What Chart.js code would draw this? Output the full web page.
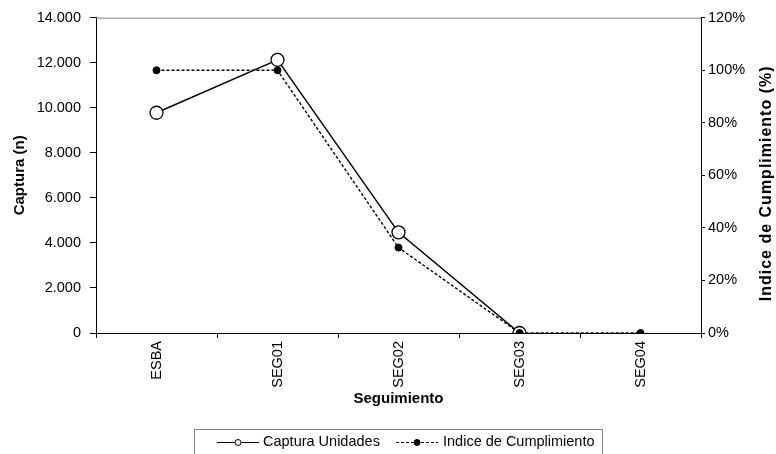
<!DOCTYPE html>
<html>
<head>
<meta charset="utf-8">
<script src="https://cdn.jsdelivr.net/npm/chart.js@4"></script>
<style>
  html, body { margin: 0; padding: 0; background: #fff; }
  #wrap { width: 776px; height: 454px; }
</style>
</head>
<body>
<div id="wrap"><canvas id="chart" width="776" height="454"></canvas></div>
<script>
/* ===== DATA ===== */
const CATEGORIES   = ['ESBA', 'SEG01', 'SEG02', 'SEG03', 'SEG04'];
const CAPTURA      = [9780, 12130, 4470, 0, null];   // Captura Unidades (n)
const INDICE       = [100, 100, 32.5, 0, 0];         // Indice de Cumplimiento (%)
const SERIES_NAMES = ['Captura Unidades', 'Indice de Cumplimiento'];
const Y_LEFT  = {min: 0, max: 14000, step: 2000, title: 'Captura (n)'};
const Y_RIGHT = {min: 0, max: 120,   step: 20,   title: 'Indice de Cumplimiento (%)'};
const X_TITLE = 'Seguimiento';

/* ===== HELPERS ===== */
const FONT = '"Liberation Sans", Arial, sans-serif';
const thousands = v => String(v).replace(/\B(?=(\d{3})+(?!\d))/g, '.');

// grey top border of the plot area
const topBorder = {
  id: 'topBorder',
  beforeDatasetsDraw(chart) {
    const {ctx, chartArea: a} = chart;
    ctx.save();
    ctx.strokeStyle = '#808080';
    ctx.lineWidth = 1;
    ctx.beginPath();
    ctx.moveTo(a.left, a.top + 0.5);
    ctx.lineTo(a.right, a.top + 0.5);
    ctx.stroke();
    ctx.restore();
  }
};

// right axis title reads bottom-to-top in the original (Chart.js turns it the other way)
const rightTitle = {
  id: 'rightTitle',
  afterDraw(chart) {
    const {ctx, chartArea: a} = chart;
    const s = chart.scales.y1;
    ctx.save();
    ctx.translate(s.right - 9, (a.top + a.bottom) / 2 + 8);
    ctx.rotate(-Math.PI / 2);
    ctx.font = 'bold 16px ' + FONT;
    ctx.letterSpacing = '1px';
    ctx.fillStyle = '#000';
    ctx.textAlign = 'center';
    ctx.textBaseline = 'middle';
    ctx.fillText(Y_RIGHT.title, 0, 0);
    ctx.restore();
  }
};

// boxed legend at the bottom, line + marker samples like the original
const boxLegend = {
  id: 'boxLegend',
  afterDraw(chart) {
    const ctx = chart.ctx;
    const y = 442.5;
    const items = [{x0: 217, x1: 259, text: 263}, {x0: 396, x1: 438, text: 443}];
    ctx.save();
    ctx.strokeStyle = '#808080';
    ctx.lineWidth = 1;
    ctx.strokeRect(194.5, 429.5, 408, 40);
    chart.data.datasets.forEach((ds, i) => {
      const it = items[i];
      ctx.strokeStyle = '#000';
      ctx.lineWidth = 1;
      ctx.setLineDash(ds.borderDash || []);
      ctx.beginPath();
      ctx.moveTo(it.x0, y);
      ctx.lineTo(it.x1, y);
      ctx.stroke();
      ctx.setLineDash([]);
      const mx = (it.x0 + it.x1) / 2;
      ctx.beginPath();
      ctx.arc(mx, y, 3, 0, Math.PI * 2);
      ctx.fillStyle = ds.pointBackgroundColor;
      ctx.fill();
      ctx.stroke();
      ctx.fillStyle = '#000';
      ctx.font = '14.5px ' + FONT;
      ctx.textBaseline = 'middle';
      ctx.fillText(ds.label, it.text, y - 1);
    });
    ctx.restore();
  }
};

/* ===== CHART ===== */
new Chart(document.getElementById('chart'), {
  type: 'line',
  data: {
    labels: CATEGORIES,
    datasets: [
      {
        label: SERIES_NAMES[0], data: CAPTURA, yAxisID: 'y', order: 2,
        borderColor: '#000', borderWidth: 1.5,
        pointRadius: 6.5, pointBorderWidth: 1.3,
        pointBackgroundColor: '#fff', pointBorderColor: '#000'
      },
      {
        label: SERIES_NAMES[1], data: INDICE, yAxisID: 'y1', order: 1,
        borderColor: '#000', borderWidth: 1.4, borderDash: [3, 2],
        pointRadius: 3.5, pointBorderWidth: 1,
        pointBackgroundColor: '#000', pointBorderColor: '#000'
      }
    ]
  },
  options: {
    responsive: false,
    animation: false,
    layout: {padding: {top: 16, bottom: 44, left: 0, right: 0}},
    plugins: {legend: {display: false}, tooltip: {enabled: false}},
    scales: {
      x: {
        offset: true,
        grid: {offset: true, drawOnChartArea: false, color: '#000', tickLength: 5},
        border: {color: '#000', width: 1},
        ticks: {color: '#000', font: {family: FONT, size: 14.5}, minRotation: 90, maxRotation: 90, padding: 3},
        title: {display: true, text: X_TITLE, color: '#000', font: {family: FONT, size: 15, weight: 'bold'}, padding: {top: 0, bottom: 2}},
        afterFit: s => { s.height = 77; }
      },
      y: {
        position: 'left',
        min: Y_LEFT.min, max: Y_LEFT.max,
        grid: {drawOnChartArea: false, color: '#000', tickLength: 6},
        border: {color: '#000', width: 1},
        ticks: {stepSize: Y_LEFT.step, color: '#000', padding: 9, font: {family: FONT, size: 14.5}, callback: v => thousands(v)},
        title: {display: true, text: Y_LEFT.title, color: '#000', font: {family: FONT, size: 15, weight: 'bold'}, padding: {top: 11, bottom: 0}},
        afterFit: s => { s.width = 96; }
      },
      y1: {
        position: 'right',
        min: Y_RIGHT.min, max: Y_RIGHT.max,
        grid: {drawOnChartArea: false, color: '#000', tickLength: 4},
        border: {color: '#000', width: 1},
        ticks: {stepSize: Y_RIGHT.step, color: '#000', padding: 3, font: {family: FONT, size: 14.5}, callback: v => v + '%'},
        title: {display: false},
        afterFit: s => { s.width = 75; }
      }
    }
  },
  plugins: [topBorder, rightTitle, boxLegend]
});
</script>
</body>
</html>
